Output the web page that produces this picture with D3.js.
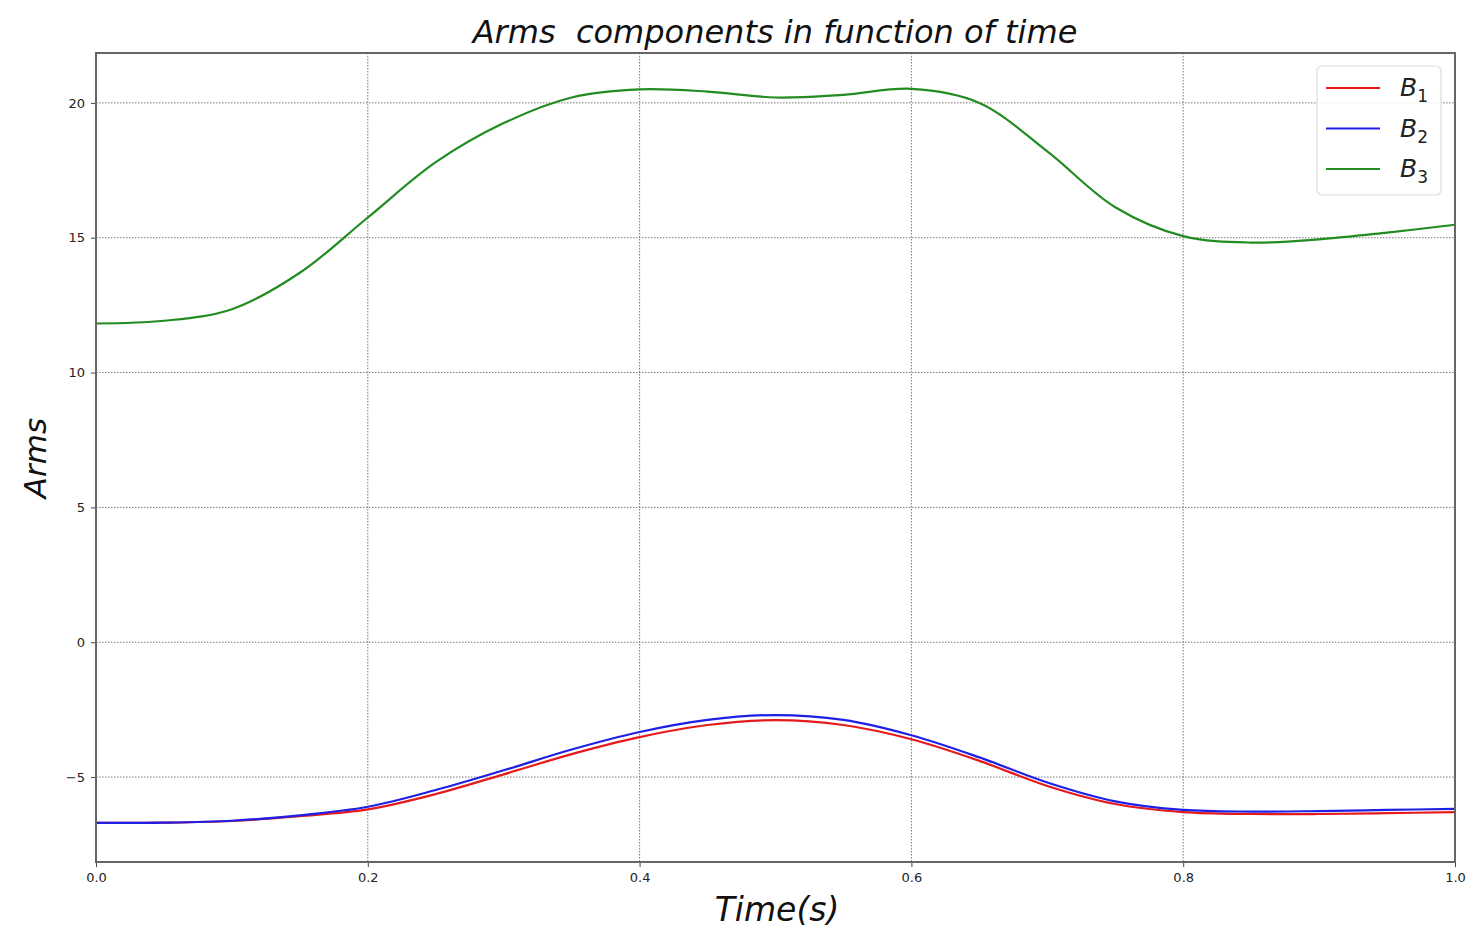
<!DOCTYPE html>
<html>
<head>
<meta charset="utf-8">
<script src="https://cdn.jsdelivr.net/npm/d3@7"></script>
<style>
  body { margin: 0; background: #fff; }
  svg { display: block; font-family: "DejaVu Sans", sans-serif; }
  text { white-space: pre; }
</style>
</head>
<body>
<svg id="chart" width="1468" height="928"></svg>
<script>
const time = [0, 0.05, 0.1, 0.15, 0.2, 0.25, 0.3, 0.35, 0.4, 0.45, 0.5, 0.55, 0.6, 0.65, 0.7, 0.75, 0.8, 0.85, 0.9, 0.95, 1.0];
const B1 = [-6.7, -6.69, -6.63, -6.45, -6.2, -5.63, -4.9, -4.15, -3.52, -3.07, -2.89, -3.07, -3.6, -4.4, -5.33, -6.0, -6.3, -6.37, -6.37, -6.34, -6.3];
const B2 = [-6.7, -6.69, -6.62, -6.42, -6.1, -5.48, -4.75, -3.98, -3.33, -2.88, -2.7, -2.88, -3.45, -4.27, -5.2, -5.9, -6.22, -6.28, -6.26, -6.22, -6.18];
const B3 = [11.82, 11.92, 12.35, 13.7, 15.75, 17.8, 19.25, 20.2, 20.5, 20.42, 20.2, 20.3, 20.52, 20.0, 18.2, 16.13, 15.06, 14.82, 14.94, 15.19, 15.48];
const seriesNames = ["1", "2", "3"];
const seriesColors = ["#e41a1c", "#1f1fe6", "#228b22"];
const xTicks = [0, 0.2, 0.4, 0.6, 0.8, 1.0];
const yTicks = [-5, 0, 5, 10, 15, 20];

const svg = d3.select("#chart");
const L = 96, R = 1455, T = 53, B = 862;
const x = d3.scaleLinear().domain([0, 1]).range([L, R]);
const y = d3.scaleLinear().domain([-8.15, 21.85]).range([B, T]);

// grid
const grid = svg.append("g");
grid.selectAll("line.gx").data(xTicks.slice(1, -1)).join("line")
  .attr("x1", d => x(d)).attr("x2", d => x(d)).attr("y1", T).attr("y2", B)
  .attr("stroke", "#777").attr("stroke-width", 1).attr("stroke-dasharray", "1.5,1.5");
grid.selectAll("line.gy").data(yTicks).join("line")
  .attr("x1", L).attr("x2", R).attr("y1", d => y(d)).attr("y2", d => y(d))
  .attr("stroke", "#777").attr("stroke-width", 1).attr("stroke-dasharray", "1.5,1.5");

// axes
const xAxis = d3.axisBottom(x).tickValues(xTicks).tickFormat(d3.format(".1f")).tickSize(5).tickPadding(6);
const yAxis = d3.axisLeft(y).tickValues(yTicks).tickFormat(d => d < 0 ? "\u2212" + Math.abs(d) : d).tickSize(5).tickPadding(6);
const gx = svg.append("g").attr("transform", `translate(0,${B})`).call(xAxis);
const gy = svg.append("g").attr("transform", `translate(${L},0)`).call(yAxis);
[gx, gy].forEach(g => {
  g.select(".domain").remove();
  g.selectAll("text").attr("font-size", 13).attr("fill", "#222").attr("font-family", "DejaVu Sans");
  g.selectAll("line").attr("stroke", "#444");
});

// lines
const line = d3.line().x((d, i) => x(time[i])).y(d => y(d)).curve(d3.curveCatmullRom.alpha(0.5));
[B1, B2, B3].forEach((s, i) => {
  svg.append("path").datum(s).attr("d", line)
    .attr("fill", "none").attr("stroke", seriesColors[i]).attr("stroke-width", 2.2);
});

// frame
svg.append("rect").attr("x", L).attr("y", T).attr("width", R - L).attr("height", B - T)
  .attr("fill", "none").attr("stroke", "#666").attr("stroke-width", 2);

// title & labels
svg.append("text").attr("x", 775).attr("y", 43).attr("text-anchor", "middle")
  .attr("font-size", 32).attr("font-style", "italic").attr("fill", "#111")
  .text("Arms  components in function of time");
svg.append("text").attr("x", 777).attr("y", 921).attr("text-anchor", "middle")
  .attr("font-size", 33).attr("font-style", "italic").attr("fill", "#111").text("Time(s)");
svg.append("text").attr("transform", "translate(46,458) rotate(-90)").attr("text-anchor", "middle")
  .attr("font-size", 31).attr("font-style", "italic").attr("fill", "#111").text("Arms");

// legend
const lg = svg.append("g");
lg.append("rect").attr("x", 1317).attr("y", 66).attr("width", 124).attr("height", 129)
  .attr("rx", 5).attr("fill", "#fff").attr("fill-opacity", 0.85).attr("stroke", "#ddd").attr("stroke-width", 1.2);
seriesNames.forEach((n, i) => {
  const yy = 88 + i * 40.5;
  lg.append("line").attr("x1", 1326).attr("x2", 1380).attr("y1", yy).attr("y2", yy)
    .attr("stroke", seriesColors[i]).attr("stroke-width", 2.2);
  const t = lg.append("text").attr("x", 1400).attr("y", yy + 8).attr("font-size", 25)
    .attr("font-style", "italic").attr("fill", "#222");
  t.append("tspan").text("B");
  t.append("tspan").attr("dy", 6).attr("font-size", 17).attr("font-style", "normal").text(n);
});
</script>
</body>
</html>
